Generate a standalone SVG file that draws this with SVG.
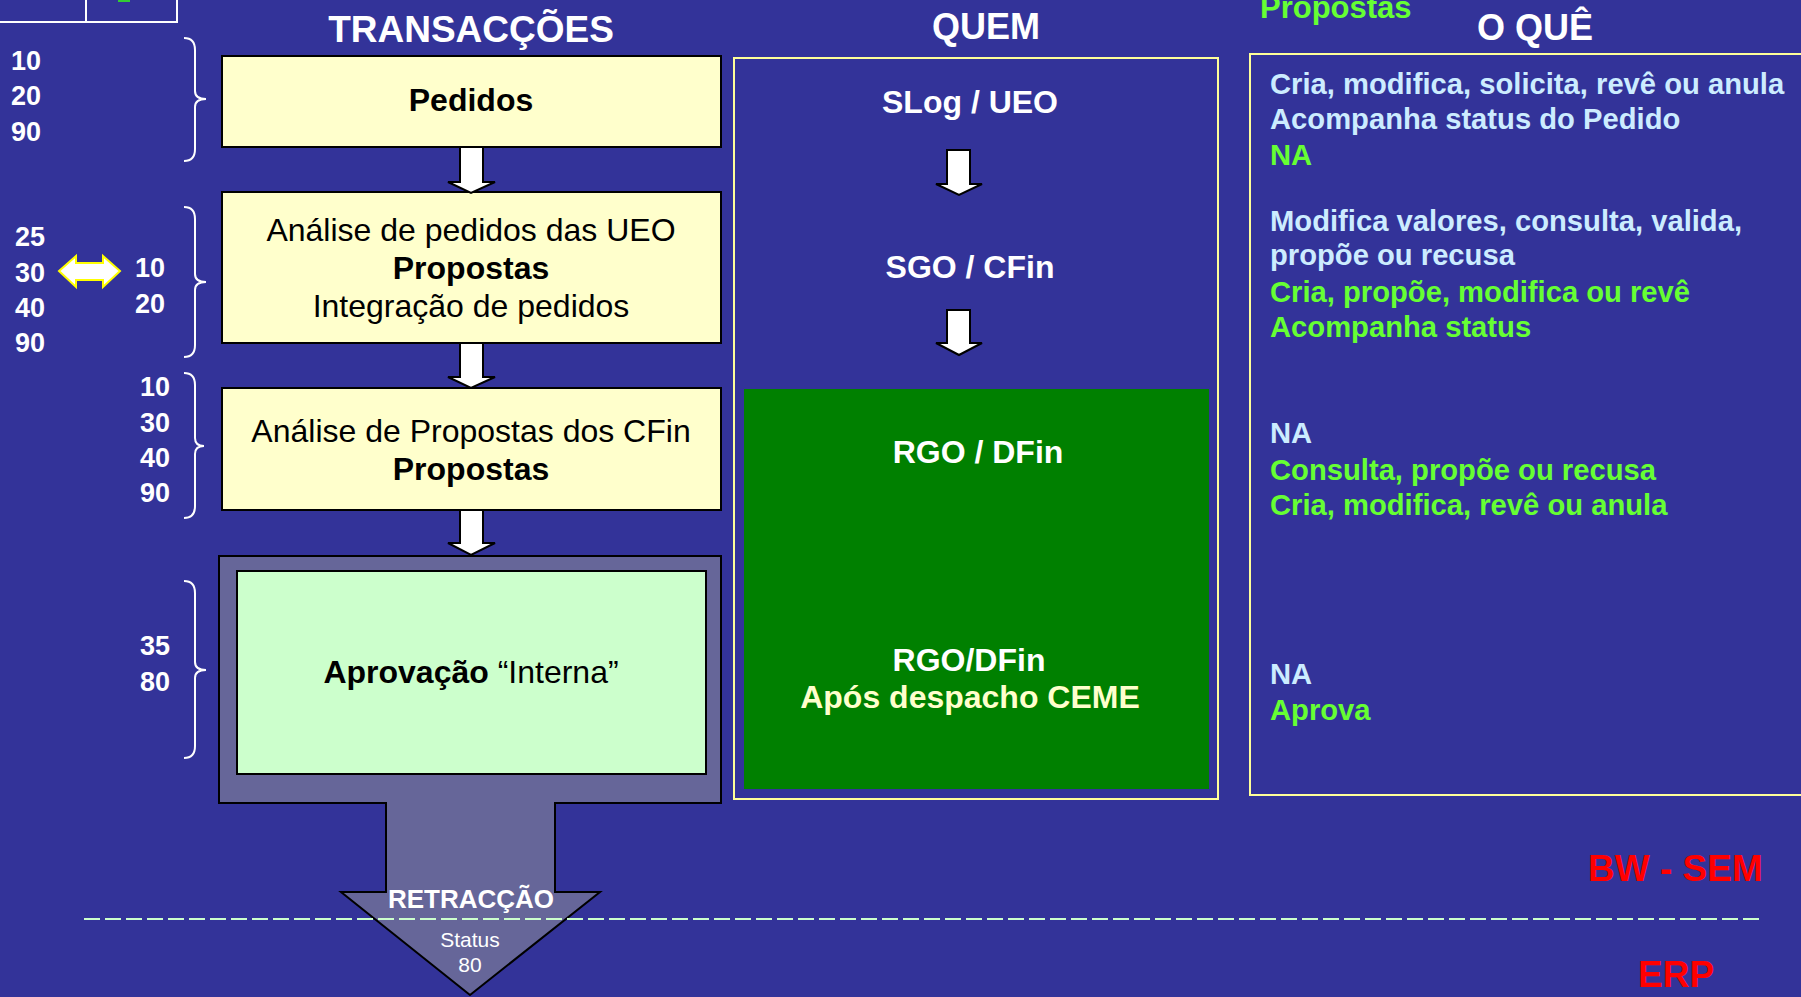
<svg xmlns="http://www.w3.org/2000/svg" width="1801" height="997" viewBox="0 0 1801 997">
<style>
text{font-family:"Liberation Sans",Arial,sans-serif}
.t{fill:#fff;font-weight:bold;font-size:36px;text-anchor:middle}
.num{fill:#fff;font-weight:bold;font-size:27px}
.box{fill:#FFFFCC;stroke:#000;stroke-width:2}
.bx{fill:#000;font-size:32px;text-anchor:middle}
.b{font-weight:bold}
.brace{fill:none;stroke:#fff;stroke-width:2}
.arr{fill:#fff;stroke:#000;stroke-width:2;stroke-linejoin:miter}
.wq{fill:#fff;font-weight:bold;font-size:32px;text-anchor:middle}
.lb{fill:#CCECFF;font-weight:bold;font-size:29.2px}
.gr{fill:#66FF33;font-weight:bold;font-size:29.2px}
.red{fill:#FF0000;font-weight:bold;font-size:37px}
.frame{fill:none;stroke:#FFFF99;stroke-width:2}
</style>
<rect width="1801" height="997" fill="#333399"/>
<g id="corner">
<path d="M0,22 H177 V0 M86,0 V22" fill="none" stroke="#fff" stroke-width="2"/>
<rect x="118" y="0" width="12" height="2" fill="#33CC33"/>
</g>
<g id="headers">
<text class="t" x="471" y="42" style="font-size:37px">TRANSACÇÕES</text>
<text class="t" x="986" y="39">QUEM</text>
<text class="t" x="1535" y="40">O QUÊ</text>
<text x="1260" y="18" style="fill:#66FF33;font-weight:bold;font-size:31px">Propostas</text>
</g>
<g id="levels">
<path class="brace" d="M184,38 Q195,38 195,50 L195,91 Q195,99 206,99 Q195,99 195,107 L195,149 Q195,161 184,161"/>
<path class="brace" d="M184,207 Q195,207 195,219 L195,274 Q195,282 206,282 Q195,282 195,290 L195,345 Q195,357 184,357"/>
<path class="brace" d="M184,373 Q195,373 195,385 L195,438 Q195,446 204,446 Q195,446 195,454 L195,506 Q195,518 184,518"/>
<path class="brace" d="M184,581 Q195,581 195,593 L195,662 Q195,670 206,670 Q195,670 195,678 L195,746 Q195,758 184,758"/>
<text class="num" x="11" y="70">10</text>
<text class="num" x="11" y="105">20</text>
<text class="num" x="11" y="141">90</text>
<text class="num" x="15" y="246">25</text>
<text class="num" x="15" y="282">30</text>
<text class="num" x="15" y="317">40</text>
<text class="num" x="15" y="352">90</text>
<polygon points="59,271 76,256 76,263 103,263 103,256 120,271 103,287 103,280 76,280 76,287" fill="#fff" stroke="#FFFF00" stroke-width="2"/>
<text class="num" x="135" y="277">10</text>
<text class="num" x="135" y="313">20</text>
<text class="num" x="140" y="396">10</text>
<text class="num" x="140" y="432">30</text>
<text class="num" x="140" y="467">40</text>
<text class="num" x="140" y="502">90</text>
<text class="num" x="140" y="655">35</text>
<text class="num" x="140" y="691">80</text>
</g>
<g id="pedidos">
<rect class="box" x="222" y="56" width="499" height="91"/>
<text class="bx b" x="471" y="111">Pedidos</text>
</g>
<g id="analise-ueo">
<rect class="box" x="222" y="192" width="499" height="151"/>
<text class="bx" x="471" y="241">Análise de pedidos das UEO</text>
<text class="bx b" x="471" y="279">Propostas</text>
<text class="bx" x="471" y="317">Integração de pedidos</text>
</g>
<g id="analise-cfin">
<rect class="box" x="222" y="388" width="499" height="122"/>
<text class="bx" x="471" y="442">Análise de Propostas dos CFin</text>
<text class="bx b" x="471" y="480">Propostas</text>
</g>
<g id="aprovacao">
<polygon points="219,556 721,556 721,803 555,803 555,892 600,892 470,995 341,892 386,892 386,803 219,803" fill="#666699" stroke="#000" stroke-width="2"/>
<rect x="237" y="571" width="469" height="203" fill="#CCFFCC" stroke="#000" stroke-width="2"/>
<text class="bx" x="471" y="683"><tspan class="b">Aprovação</tspan> “Interna”</text>
<text x="471" y="908" style="fill:#fff;font-weight:bold;font-size:26px;text-anchor:middle">RETRACÇÃO</text>
<text x="470" y="947" style="fill:#fff;font-size:21px;text-anchor:middle">Status</text>
<text x="470" y="972" style="fill:#fff;font-size:21px;text-anchor:middle">80</text>
</g>
<g id="quem">
<rect class="frame" x="734" y="58" width="484" height="741"/>
<text class="wq" x="970" y="113">SLog / UEO</text>
<text class="wq" x="970" y="278">SGO / CFin</text>
<rect x="744" y="389" width="465" height="400" fill="#008000"/>
<text class="wq" x="978" y="463">RGO / DFin</text>
<text class="wq" x="969" y="671">RGO/DFin</text>
<text class="wq" x="970" y="708" style="fill:#FFFFCC">Após despacho CEME</text>
</g>
<g id="oque">
<rect class="frame" x="1250" y="54" width="560" height="741"/>
<text class="lb" x="1270" y="94">Cria, modifica, solicita, revê ou anula</text>
<text class="lb" x="1270" y="129">Acompanha status do Pedido</text>
<text class="gr" x="1270" y="165">NA</text>
<text class="lb" x="1270" y="231">Modifica valores, consulta, valida,</text>
<text class="lb" x="1270" y="265">propõe ou recusa</text>
<text class="gr" x="1270" y="302">Cria, propõe, modifica ou revê</text>
<text class="gr" x="1270" y="337">Acompanha status</text>
<text class="lb" x="1270" y="443">NA</text>
<text class="gr" x="1270" y="480">Consulta, propõe ou recusa</text>
<text class="gr" x="1270" y="515">Cria, modifica, revê ou anula</text>
<text class="lb" x="1270" y="684">NA</text>
<text class="gr" x="1270" y="720">Aprova</text>
</g>
<g id="connectors">
<polygon class="arr" points="460,147 483,147 483,182 495,182 471,193 448,182 460,182"/>
<polygon class="arr" points="460,343 483,343 483,377 495,377 471,388 448,377 460,377"/>
<polygon class="arr" points="460,510 483,510 483,543 495,543 471,555 448,543 460,543"/>
<polygon class="arr" points="947,150 970,150 970,184 982,184 959,195 936,184 947,184"/>
<polygon class="arr" points="947,310 970,310 970,343 982,343 959,355 936,343 947,343"/>
</g>
<g id="boundary">
<line x1="84" y1="919" x2="1763" y2="919" stroke="#CCFFCC" stroke-width="2" stroke-dasharray="16 5"/>
<text class="red" x="1588" y="881">BW - SEM</text>
<text class="red" x="1638" y="987">ERP</text>
</g>
</svg>
